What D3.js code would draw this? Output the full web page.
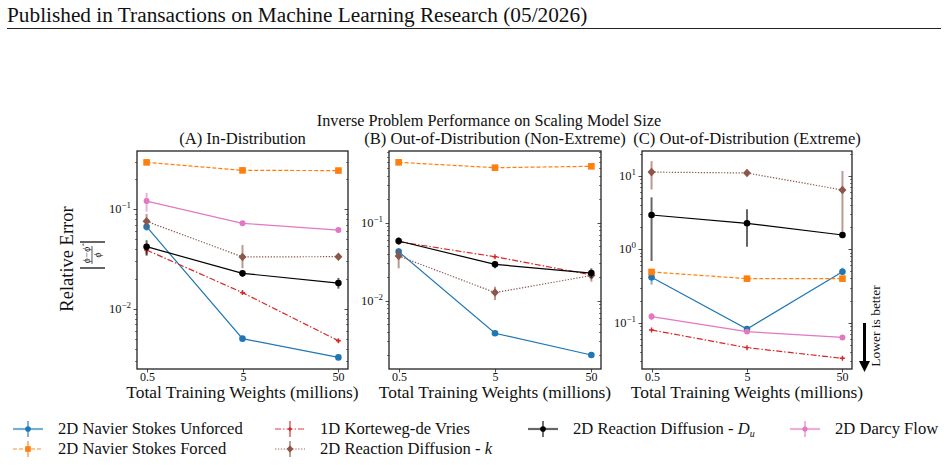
<!DOCTYPE html>
<html><head><meta charset="utf-8">
<script src="https://cdn.jsdelivr.net/npm/d3@7"></script>
<style>
body{margin:0;background:#fff;}
svg{display:block;}
text{fill:#111;}
</style></head>
<body><svg id="c" width="948" height="465" font-family="'Liberation Serif', 'DejaVu Serif', serif"></svg>
<script>
// ---------- data ----------
const sizes = [0.5, 5, 50];
const xTickLabels = ["0.5", "5", "50"];
const seriesNames = ["2D Navier Stokes Unforced","2D Navier Stokes Forced","1D Korteweg-de Vries","2D Reaction Diffusion - k","2D Reaction Diffusion - Du","2D Darcy Flow"];
const panelTitles = ["(A) In-Distribution","(B) Out-of-Distribution (Non-Extreme)","(C) Out-of-Distribution (Extreme)"];

// Panel A: In-Distribution
const nsUnforcedA = [0.067, 0.00504, 0.00327];
const nsForcedA   = [0.296, 0.246, 0.245];
const kdvA        = [0.0391, 0.0146, 0.0048];
const rdKA        = [0.0758, 0.0333, 0.0335];
const rdDuA       = [0.0422, 0.0228, 0.0182];
const darcyA      = [0.121, 0.0724, 0.062];
const nsUnforcedErrA = [[0.061,0.073],[0.0048,0.0053],[0.0031,0.0034]];
const nsForcedErrA   = [[0.29,0.30],[0.242,0.25],[0.241,0.249]];
const kdvErrA        = [[0.035,0.043],[0.0142,0.015],[0.0046,0.005]];
const rdKErrA        = [[0.064,0.09],[0.0256,0.0438],[0.032,0.035]];
const rdDuErrA       = [[0.0343,0.049],[0.021,0.0245],[0.016,0.0205]];
const darcyErrA      = [[0.095,0.146],[0.070,0.075],[0.060,0.064]];

// Panel B: OOD Non-Extreme
const nsUnforcedB = [0.0425, 0.00382, 0.00201];
const nsForcedB   = [0.594, 0.507, 0.528];
const kdvB        = [0.057, 0.0366, 0.0214];
const rdKB        = [0.0374, 0.0127, 0.021];
const rdDuB       = [0.0582, 0.0292, 0.0226];
const darcyB      = [null, null, null];
const nsUnforcedErrB = [[0.039,0.046],[0.0037,0.0039],[0.0019,0.0022]];
const nsForcedErrB   = [[0.58,0.61],[0.5,0.515],[0.52,0.536]];
const kdvErrB        = [[0.055,0.059],[0.0355,0.0377],[0.0205,0.0223]];
const rdKErrB        = [[0.026,0.047],[0.0102,0.0151],[0.0175,0.0245]];
const rdDuErrB       = [[0.052,0.065],[0.026,0.032],[0.0195,0.026]];
const darcyErrB      = [null, null, null];

// Panel C: OOD Extreme
const nsUnforcedC = [0.414, 0.082, 0.494];
const nsForcedC   = [0.49, 0.397, 0.397];
const kdvC        = [0.0794, 0.0457, 0.0327];
const rdKC        = [11.2, 10.9, 6.39];
const rdDuC       = [2.92, 2.25, 1.56];
const darcyC      = [0.121, 0.0755, 0.063];
const nsUnforcedErrC = [[0.33,0.49],[0.078,0.086],[0.44,0.56]];
const nsForcedErrC   = [[0.47,0.51],[0.385,0.41],[0.385,0.41]];
const kdvErrC        = [[0.077,0.082],[0.0445,0.047],[0.0318,0.0336]];
const rdKErrC        = [[6.5,15.8],[10.3,11.5],[1.41,11.6]];
const rdDuErrC       = [[0.69,5.08],[1.08,3.49],[1.45,1.68]];
const darcyErrC      = [[0.108,0.135],[0.073,0.078],[0.061,0.065]];

const yTicksA = [0.01, 0.1];
const yTicksB = [0.01, 0.1];
const yTicksC = [0.1, 1, 10];

// ---------- styling ----------
const styles = [
  {color:"#1f77b4", dash:null, marker:"circle"},
  {color:"#ff7f0e", dash:"4,2", marker:"square"},
  {color:"#d62728", dash:"6,2,1.5,2", marker:"plus"},
  {color:"#8c564b", dash:"1.3,1.6", marker:"diamond"},
  {color:"#000000", dash:null, marker:"circle"},
  {color:"#e377c2", dash:null, marker:"pent"}
];

const panels = [
  {x0:137, x1:348, title:panelTitles[0], yDom:[0.0025,0.385], yTicks:yTicksA,
   vals:[nsUnforcedA,nsForcedA,kdvA,rdKA,rdDuA,darcyA],
   errs:[nsUnforcedErrA,nsForcedErrA,kdvErrA,rdKErrA,rdDuErrA,darcyErrA]},
  {x0:389, x1:601, title:panelTitles[1], yDom:[0.00133,0.83], yTicks:yTicksB,
   vals:[nsUnforcedB,nsForcedB,kdvB,rdKB,rdDuB,darcyB],
   errs:[nsUnforcedErrB,nsForcedErrB,kdvErrB,rdKErrB,rdDuErrB,darcyErrB]},
  {x0:642, x1:852, title:panelTitles[2], yDom:[0.0234,21.7], yTicks:yTicksC,
   vals:[nsUnforcedC,nsForcedC,kdvC,rdKC,rdDuC,darcyC],
   errs:[nsUnforcedErrC,nsForcedErrC,kdvErrC,rdKErrC,rdDuErrC,darcyErrC]}
];
const Y0 = 151, Y1 = 369;

const svg = d3.select("#c");

// header
svg.append("text").attr("x",7).attr("y",22).attr("font-size",21.3).text("Published in Transactions on Machine Learning Research (05/2026)");
svg.append("line").attr("x1",7).attr("x2",941).attr("y1",28.5).attr("y2",28.5).attr("stroke","#222").attr("stroke-width",1);

// suptitle
svg.append("text").attr("x",489).attr("y",126).attr("text-anchor","middle").attr("font-size",16.2).text("Inverse Problem Performance on Scaling Model Size");

function drawMarker(g, type, x, y, color, scale){
  const s = scale||1;
  if(type==="circle"){
    g.append("circle").attr("cx",x).attr("cy",y).attr("r",3.3*s).attr("fill",color);
  } else if(type==="square"){
    g.append("rect").attr("x",x-3.3*s).attr("y",y-3.3*s).attr("width",6.6*s).attr("height",6.6*s).attr("fill",color);
  } else if(type==="diamond"){
    g.append("path").attr("d",`M${x},${y-4.3*s}L${x+4*s},${y}L${x},${y+4.3*s}L${x-4*s},${y}Z`).attr("fill",color);
  } else if(type==="plus"){
    g.append("path").attr("d",`M${x-2.5*s},${y}H${x+2.5*s}M${x},${y-2.5*s}V${y+2.5*s}`).attr("stroke",color).attr("stroke-width",1.4);
  } else if(type==="pent"){
    g.append("path").attr("d",d3.symbol(d3.symbolCircle, 28*s*s)()).attr("transform",`translate(${x},${y})`).attr("fill",color);
  }
}

function supLabel(g, x, y, base, exp, anchor, fs){
  const t = g.append("text").attr("x",x).attr("y",y).attr("text-anchor",anchor).attr("font-size",fs);
  t.append("tspan").text(base);
  t.append("tspan").attr("dy",-5).attr("font-size",fs*0.72).text(exp);
  return t;
}

panels.forEach((p,pi)=>{
  const x = d3.scaleLog().domain([0.5/Math.pow(10,0.1), 50*Math.pow(10,0.1)]).range([p.x0,p.x1]);
  const y = d3.scaleLog().domain(p.yDom).range([Y1,Y0]);
  const g = svg.append("g");
  const cx = (p.x0+p.x1)/2;
  g.append("text").attr("x",cx).attr("y",144).attr("text-anchor","middle").attr("font-size",16.6).text(p.title);

  // minor ticks
  const lo = Math.floor(Math.log10(p.yDom[0])), hi = Math.ceil(Math.log10(p.yDom[1]));
  for(let e=lo;e<=hi;e++){
    for(let m=1;m<10;m++){
      const v = m*Math.pow(10,e);
      if(v<p.yDom[0]||v>p.yDom[1]) continue;
      const yy = Math.round(y(v))+0.5;
      const major = m===1;
      const len = major?3.5:2;
      g.append("line").attr("x1",p.x0-len).attr("x2",p.x0).attr("y1",yy).attr("y2",yy).attr("stroke","#222").attr("stroke-width",major?0.8:0.6);
      g.append("line").attr("x1",p.x1).attr("x2",p.x1-len).attr("y1",yy).attr("y2",yy).attr("stroke","#222").attr("stroke-width",major?0.8:0.6);
    }
  }
  // y tick labels
  p.yTicks.forEach(v=>{
    const e = Math.round(Math.log10(v));
    supLabel(g, p.x0-6, y(v)+4, "10", (e<0?"\u2212":"")+Math.abs(e), "end", 12.5);
  });
  // x ticks
  sizes.forEach((s,i)=>{
    const xx = Math.round(x(s))+0.5;
    g.append("line").attr("x1",xx).attr("x2",xx).attr("y1",Y1).attr("y2",Y1+3.5).attr("stroke","#222").attr("stroke-width",0.8);
    g.append("text").attr("x",xx).attr("y",Y1+11.5).attr("text-anchor","middle").attr("font-size",12).text(xTickLabels[i]);
  });
  g.append("text").attr("x",cx+0).attr("y",Y1+29).attr("text-anchor","middle").attr("font-size",17.4).text("Total Training Weights (millions)");

  // series
  const clipId = "clip"+pi;
  g.append("clipPath").attr("id",clipId).append("rect").attr("x",p.x0).attr("y",Y0).attr("width",p.x1-p.x0).attr("height",Y1-Y0);
  const dg = g.append("g").attr("clip-path",`url(#${clipId})`);
  p.vals.forEach((vals,si)=>{
    const st = styles[si];
    const pts = sizes.map((s,i)=>({s, v:vals[i], e:p.errs[si] ? p.errs[si][i] : null})).filter(d=>d.v!=null);
    if(!pts.length) return;
    const line = d3.line().x(d=>x(d.s)).y(d=>y(d.v));
    dg.append("path").datum(pts).attr("d",line).attr("fill","none").attr("stroke",st.color).attr("stroke-width",1.2).attr("stroke-dasharray",st.dash);
    pts.forEach(d=>{
      if(d.e){
        dg.append("line").attr("x1",x(d.s)).attr("x2",x(d.s)).attr("y1",y(d.e[0])).attr("y2",y(d.e[1])).attr("stroke",st.color).attr("stroke-opacity",0.6).attr("stroke-width",2);
      }
      drawMarker(dg, st.marker, x(d.s), y(d.v), st.color);
    });
  });

  // frame
  g.append("rect").attr("x",p.x0).attr("y",Y0).attr("width",p.x1-p.x0).attr("height",Y1-Y0).attr("fill","none").attr("stroke","#222").attr("stroke-width",1.3);
});

// y label
const yl = svg.append("g").attr("transform","translate(73,259) rotate(-90)");
yl.append("text").attr("x",0).attr("y",0).attr("text-anchor","middle").attr("font-size",18.5).text("Relative Error");
const fr = svg.append("g").attr("transform","translate(93,255) rotate(-90)");
fr.append("line").attr("x1",-13).attr("x2",-13).attr("y1",-13).attr("y2",12).attr("stroke","#111").attr("stroke-width",1.3);
fr.append("line").attr("x1",13).attr("x2",13).attr("y1",-13).attr("y2",12).attr("stroke","#111").attr("stroke-width",1.3);
fr.append("line").attr("x1",-9).attr("x2",9).attr("y1",-1).attr("y2",-1).attr("stroke","#111").attr("stroke-width",0.7);
const num = fr.append("text").attr("x",0).attr("y",-3.5).attr("text-anchor","middle").attr("font-size",9.5).attr("font-style","italic");
num.append("tspan").text("\u03d5\u2212\u03d5\u0302");
fr.append("text").attr("x",0).attr("y",8).attr("text-anchor","middle").attr("font-size",9.5).attr("font-style","italic").text("\u03d5");

// Lower is better
svg.append("line").attr("x1",864.5).attr("x2",864.5).attr("y1",323).attr("y2",362).attr("stroke","#000").attr("stroke-width",3);
svg.append("path").attr("d","M859,361L870,361L864.5,372Z").attr("fill","#000");
svg.append("text").attr("transform","translate(880,326) rotate(-90)").attr("text-anchor","middle").attr("font-size",13.5).text("Lower is better");

// legend
const legendItems = [
  {si:0, x:13, y:429},
  {si:1, x:13, y:449},
  {si:2, x:275, y:429},
  {si:3, x:275, y:449},
  {si:4, x:528, y:429},
  {si:5, x:790, y:429}
];
legendItems.forEach(it=>{
  const st = styles[it.si];
  const g = svg.append("g");
  g.append("line").attr("x1",it.x).attr("x2",it.x+30).attr("y1",it.y).attr("y2",it.y).attr("stroke",st.color).attr("stroke-width",st.dash?1.4:2.2).attr("stroke-opacity",0.6).attr("stroke-dasharray",st.dash);
  g.append("line").attr("x1",it.x+15).attr("x2",it.x+15).attr("y1",it.y-8).attr("y2",it.y+8).attr("stroke",st.color).attr("stroke-width",1.4).attr("stroke-opacity",0.8);
  drawMarker(g, st.marker, it.x+15, it.y, st.color, 0.85);
  const t = g.append("text").attr("x",it.x+45).attr("y",it.y+5).attr("font-size",16.6);
  if(it.si===4){
    t.append("tspan").text("2D Reaction Diffusion - ");
    t.append("tspan").attr("font-style","italic").text("D");
    t.append("tspan").attr("font-style","italic").attr("font-size",10).attr("dy",3).text("u");
  } else if(it.si===3){
    t.append("tspan").text("2D Reaction Diffusion - ");
    t.append("tspan").attr("font-style","italic").text("k");
  } else {
    t.text(seriesNames[it.si]);
  }
});
</script></body></html>
